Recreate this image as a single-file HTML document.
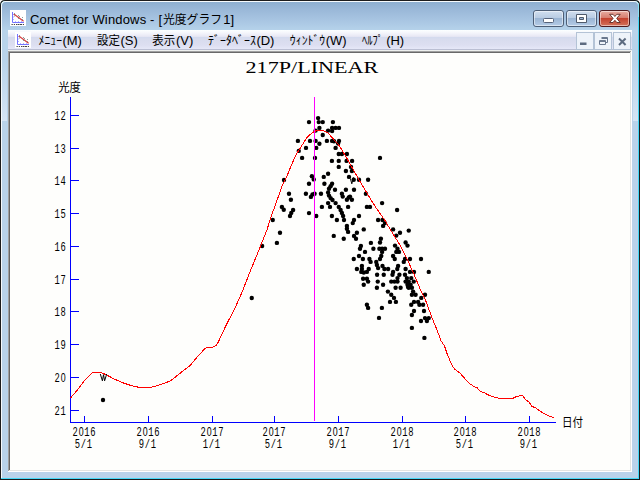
<!DOCTYPE html>
<html><head><meta charset="utf-8"><style>
html,body{margin:0;padding:0;background:#000;width:640px;height:480px;overflow:hidden}
svg{display:block}
.ss{font-family:"Liberation Sans",sans-serif}.se{font-family:"Liberation Serif",serif}.mo{font-family:"Liberation Mono",monospace}
.cj{font-family:"Liberation Sans","Noto Sans CJK JP",sans-serif}
</style></head><body>
<svg width="640" height="480" viewBox="0 0 640 480">
<defs>
<linearGradient id="tb" gradientUnits="userSpaceOnUse" x1="0" y1="2" x2="0" y2="30">
<stop offset="0" stop-color="#8eafd0"/><stop offset="0.3" stop-color="#9bb9d9"/><stop offset="0.65" stop-color="#a8c5e2"/><stop offset="1" stop-color="#b5d2ea"/>
</linearGradient>
<linearGradient id="mb" gradientUnits="userSpaceOnUse" x1="0" y1="30" x2="0" y2="49">
<stop offset="0" stop-color="#fcffff"/><stop offset="0.16" stop-color="#f4f5fb"/><stop offset="0.34" stop-color="#e7e7f4"/><stop offset="0.37" stop-color="#d3daee"/><stop offset="0.5" stop-color="#d8dcee"/><stop offset="0.8" stop-color="#dddff1"/><stop offset="1" stop-color="#e6e8f8"/>
</linearGradient>
<linearGradient id="gl" gradientUnits="userSpaceOnUse" x1="0" y1="60" x2="0" y2="121">
<stop offset="0" stop-color="#d6e5f5" stop-opacity="0"/><stop offset="0.5" stop-color="#d6e5f5" stop-opacity="0.45"/><stop offset="1" stop-color="#d6e5f5" stop-opacity="0.95"/>
</linearGradient>
<linearGradient id="btn" x1="0" y1="0" x2="0" y2="1">
<stop offset="0" stop-color="#d3e0f0"/><stop offset="0.45" stop-color="#b9cce3"/><stop offset="0.5" stop-color="#9bb5d4"/><stop offset="1" stop-color="#b6cde8"/>
</linearGradient>
<linearGradient id="cls" x1="0" y1="0" x2="0" y2="1">
<stop offset="0" stop-color="#e9b0a5"/><stop offset="0.45" stop-color="#d77e70"/><stop offset="0.5" stop-color="#c4422f"/><stop offset="1" stop-color="#d4755e"/>
</linearGradient>
<g id="ico">
<rect x="0" y="0" width="16" height="16" fill="#fff"/>
<path d="M2.5,2 V12.5 H14" stroke="#7474ff" stroke-width="1" fill="none"/>
<path d="M3,4 h1 v1 h-1z M3,6.500 h1 v1 h-1z M3,9 h1 v1 h-1z M5,11 h1 v1 h-1z M8,11 h1 v1 h-1z M11,11 h1 v1 h-1z" fill="#b4b4ff"/>
<path d="M3.800,4 L13.600,11.300" stroke="#d23c3c" stroke-width="1.100" fill="none"/>
<path d="M4,3 h1 v1 h-1z M4,5.500 h1 v1 h-1z M8,5 h1 v1 h-1z M9,6 h1 v1 h-1z M8,8 h1 v1 h-1z M12,7 h1 v1 h-1z M12,9 h1 v1 h-1z" fill="#8a9a9a"/>
<path d="M1.500,14 h1.300 v1 h-1.300z M3.800,14 h1.200 v1 h-1.200z M6,14 h1 v1 h-1z M7.500,14 h2 v1 h-2z M10,14 h2 v1 h-2z M12.800,14 h1.200 v1 h-1.200z" fill="#444"/>
</g>
</defs>
<rect x="0" y="0" width="640" height="480" fill="#f4f4f4"/>
<path d="M0,480 V5 Q0,0 5,0 H635 Q640,0 640,5 V480 Z" fill="#1c1c1c"/>
<path d="M1,479 V5.500 Q1,1 5.500,1 H634.500 Q639,1 639,5.500 V479 Z" fill="#44d8f6"/>
<path d="M1,478 V5.500 Q1,1 5.500,1 H634.500 Q638.600,1 638,5 V478 Z" fill="#f6fafc"/>
<path d="M2,478 V6 Q2,2 6,2 H634 Q638,2 638,6 V478 Z" fill="#b9d3ea"/>
<rect x="638" y="4" width="1" height="475" fill="#44d8f6"/>
<rect x="638" y="3" width="1" height="14" fill="#a8e8f8" opacity="0.7"/>
<path d="M2,30 V6 Q2,2 6,2 H634 Q638,2 638,6 V30 Z" fill="url(#tb)"/>
<rect x="2" y="60" width="5" height="61" fill="url(#gl)"/>
<rect x="633" y="60" width="5" height="61" fill="url(#gl)"/>
<rect x="8" y="30" width="624" height="19" fill="url(#mb)"/>
<rect x="8" y="49" width="624" height="1" fill="#bbbfd3"/>
<rect x="8" y="50" width="624" height="1" fill="#eef0ee"/>
<rect x="8" y="51" width="624" height="421" fill="#ffffff"/>
<rect x="8" y="51" width="623" height="1" fill="#a0a0a0"/>
<rect x="8" y="51" width="1" height="420" fill="#a0a0a0"/>
<rect x="9" y="52" width="621" height="1" fill="#696969"/>
<rect x="9" y="52" width="1" height="418" fill="#696969"/>
<rect x="9" y="470" width="622" height="1" fill="#e3e5e1"/>
<rect x="630" y="52" width="1" height="419" fill="#e3e5e1"/>
<rect x="10" y="53" width="620" height="417" fill="#fefefc"/>
<use href="#ico" x="10" y="10"/>
<use href="#ico" x="15" y="32"/>
<text x="30" y="23.5" class="ss" font-size="13" fill="#000" textLength="132" lengthAdjust="spacing">Comet for Windows - [</text>
<text x="163" y="23.5" class="cj" font-size="12" fill="#000" textLength="59" lengthAdjust="spacingAndGlyphs">光度グラフ</text>
<text x="223.3" y="23.5" class="ss" font-size="13" fill="#000">1]</text>
<rect x="533.5" y="10.5" width="30" height="16" rx="2.5" fill="url(#btn)" stroke="#4d5e76"/>
<rect x="534.5" y="11.5" width="28" height="14" rx="1.8" fill="none" stroke="#fff" stroke-opacity="0.5"/>
<rect x="566.5" y="10.5" width="30" height="16" rx="2.5" fill="url(#btn)" stroke="#4d5e76"/>
<rect x="567.5" y="11.5" width="28" height="14" rx="1.8" fill="none" stroke="#fff" stroke-opacity="0.5"/>
<rect x="599.5" y="10.5" width="30" height="16" rx="2.5" fill="url(#cls)" stroke="#4e1a1e"/>
<rect x="600.5" y="11.5" width="28" height="14" rx="1.8" fill="none" stroke="#fff" stroke-opacity="0.5"/>
<rect x="543.5" y="18.5" width="10" height="4" rx="1" fill="#fff" stroke="#56627a"/>
<path d="M576.5,14.5 h10 v8 h-10z M579.5,17.5 h4 v2 h-4z" fill="#fff" fill-rule="evenodd" stroke="#4f5a6b"/>
<path d="M609.6,14.300 l3.400,0 1.900,2.200 1.900,-2.200 3.400,0 -3.500,4.100 3.500,4.100 -3.400,0 -1.900,-2.200 -1.900,2.200 -3.400,0 3.500,-4.100z" fill="#fff" stroke="#5d2a24" stroke-width="0.9"/>
<rect x="576.5" y="32.5" width="17" height="17" fill="#eef3fa" stroke="#b4c3d6"/>
<rect x="594.5" y="32.5" width="17" height="17" fill="#eef3fa" stroke="#b4c3d6"/>
<rect x="613.5" y="32.5" width="17" height="17" fill="#eef3fa" stroke="#b4c3d6"/>
<rect x="580" y="42.500" width="6.5" height="2.5" fill="#5d6b80"/>
<path d="M601.5,37.5 h6 v5 h-2 M601.5,38.5 h6 M599.5,40.500 h6 v4 h-6z M599.5,41.5 h6" fill="none" stroke="#6a788e"/>
<path d="M619,38.500 l6.600,6.500 M625.600,38.500 l-6.600,6.500" stroke="#5d6b80" stroke-width="2" fill="none"/>
<text x="38.6" y="44.5" class="cj" font-size="12" fill="#000" textLength="23.4" lengthAdjust="spacingAndGlyphs">ﾒﾆｭｰ</text>
<text x="62.44" y="44.5" class="ss" font-size="13" fill="#000">(M)</text>
<text x="97" y="44.5" class="cj" font-size="12" fill="#000" textLength="23" lengthAdjust="spacingAndGlyphs">設定</text>
<text x="120.5" y="44.5" class="ss" font-size="13" fill="#000">(S)</text>
<text x="152.3" y="44.5" class="cj" font-size="12" fill="#000" textLength="23" lengthAdjust="spacingAndGlyphs">表示</text>
<text x="176" y="44.5" class="ss" font-size="13" fill="#000">(V)</text>
<text x="208" y="44.5" class="cj" font-size="12" fill="#000" textLength="48" lengthAdjust="spacingAndGlyphs">ﾃﾞｰﾀﾍﾞｰｽ</text>
<text x="256.38" y="44.5" class="ss" font-size="13" fill="#000">(D)</text>
<text x="289.8" y="44.5" class="cj" font-size="12" fill="#000" textLength="35.5" lengthAdjust="spacingAndGlyphs">ｳｨﾝﾄﾞｳ</text>
<text x="325.66" y="44.5" class="ss" font-size="13" fill="#000">(W)</text>
<text x="361.9" y="44.5" class="cj" font-size="12" fill="#000" textLength="21" lengthAdjust="spacingAndGlyphs">ﾍﾙﾌﾟ</text>
<text x="386.14" y="44.5" class="ss" font-size="13" fill="#000">(H)</text>
<g shape-rendering="crispEdges" stroke="#0000ff" stroke-width="1" fill="none">
<path d="M70.5,97 V422.5 H556"/>
<path d="M70,115.5 H79"/>
<path d="M70,148.5 H79"/>
<path d="M70,180.5 H79"/>
<path d="M70,213.5 H79"/>
<path d="M70,246.5 H79"/>
<path d="M70,279.5 H79"/>
<path d="M70,311.5 H79"/>
<path d="M70,344.5 H79"/>
<path d="M70,377.5 H79"/>
<path d="M70,410.5 H79"/>
<path d="M84.5,416 V422"/>
<path d="M148.5,416 V422"/>
<path d="M212.5,416 V422"/>
<path d="M274.5,416 V422"/>
<path d="M338.5,416 V422"/>
<path d="M402.5,416 V422"/>
<path d="M465.5,416 V422"/>
<path d="M529.5,416 V422"/>
</g>
<g class="mo" font-size="13" fill="#000">
<text transform="translate(54.4,119.5) scale(0.68,1)" letter-spacing="1.02">12</text>
<text transform="translate(54.4,152.5) scale(0.68,1)" letter-spacing="1.02">13</text>
<text transform="translate(54.4,184.5) scale(0.68,1)" letter-spacing="1.02">14</text>
<text transform="translate(54.4,217.5) scale(0.68,1)" letter-spacing="1.02">15</text>
<text transform="translate(54.4,250.5) scale(0.68,1)" letter-spacing="1.02">16</text>
<text transform="translate(54.4,283.5) scale(0.68,1)" letter-spacing="1.02">17</text>
<text transform="translate(54.4,315.5) scale(0.68,1)" letter-spacing="1.02">18</text>
<text transform="translate(54.4,348.5) scale(0.68,1)" letter-spacing="1.02">19</text>
<text transform="translate(54.4,381.5) scale(0.68,1)" letter-spacing="1.02">2<tspan class="ss" dx="0.4">0</tspan></text>
<text transform="translate(54.4,414.5) scale(0.68,1)" letter-spacing="1.02">21</text>
<text transform="translate(72.4,436) scale(0.68,1)" letter-spacing="1.02">2<tspan class="ss" dx="0.4">0</tspan>16</text>
<text transform="translate(74.8,448) scale(0.68,1)" letter-spacing="1.02">5/1</text>
<text transform="translate(136.4,436) scale(0.68,1)" letter-spacing="1.02">2<tspan class="ss" dx="0.4">0</tspan>16</text>
<text transform="translate(138.8,448) scale(0.68,1)" letter-spacing="1.02">9/1</text>
<text transform="translate(200.4,436) scale(0.68,1)" letter-spacing="1.02">2<tspan class="ss" dx="0.4">0</tspan>17</text>
<text transform="translate(202.8,448) scale(0.68,1)" letter-spacing="1.02">1/1</text>
<text transform="translate(262.4,436) scale(0.68,1)" letter-spacing="1.02">2<tspan class="ss" dx="0.4">0</tspan>17</text>
<text transform="translate(264.8,448) scale(0.68,1)" letter-spacing="1.02">5/1</text>
<text transform="translate(326.4,436) scale(0.68,1)" letter-spacing="1.02">2<tspan class="ss" dx="0.4">0</tspan>17</text>
<text transform="translate(328.8,448) scale(0.68,1)" letter-spacing="1.02">9/1</text>
<text transform="translate(390.4,436) scale(0.68,1)" letter-spacing="1.02">2<tspan class="ss" dx="0.4">0</tspan>18</text>
<text transform="translate(392.8,448) scale(0.68,1)" letter-spacing="1.02">1/1</text>
<text transform="translate(453.4,436) scale(0.68,1)" letter-spacing="1.02">2<tspan class="ss" dx="0.4">0</tspan>18</text>
<text transform="translate(455.8,448) scale(0.68,1)" letter-spacing="1.02">5/1</text>
<text transform="translate(517.4,436) scale(0.68,1)" letter-spacing="1.02">2<tspan class="ss" dx="0.4">0</tspan>18</text>
<text transform="translate(519.8,448) scale(0.68,1)" letter-spacing="1.02">9/1</text>
</g>
<text x="58.2" y="91.5" class="cj" font-size="12" fill="#000" textLength="22.7" lengthAdjust="spacingAndGlyphs">光度</text>
<text x="562" y="426.5" class="cj" font-size="12" fill="#000" textLength="21" lengthAdjust="spacingAndGlyphs">日付</text>
<text x="245.5" y="72.9" class="se" font-size="16.7" textLength="132.8" lengthAdjust="spacingAndGlyphs" fill="#000">217P/LINEAR</text>
<g fill="#000">
<circle cx="309" cy="122.1" r="2.2"/>
<circle cx="318.1" cy="118.1" r="2.2"/>
<circle cx="318.75" cy="122.1" r="2.2"/>
<circle cx="319.4" cy="127.9" r="2.2"/>
<circle cx="315.6" cy="130.6" r="2.2"/>
<circle cx="297.9" cy="140.9" r="2.2"/>
<circle cx="310" cy="140.9" r="2.2"/>
<circle cx="315.6" cy="140.9" r="2.2"/>
<circle cx="319.4" cy="143.75" r="2.2"/>
<circle cx="306" cy="147.9" r="2.2"/>
<circle cx="316.25" cy="147.9" r="2.2"/>
<circle cx="298.75" cy="150.9" r="2.2"/>
<circle cx="302.1" cy="157.9" r="2.2"/>
<circle cx="315" cy="157.9" r="2.2"/>
<circle cx="322.75" cy="122.1" r="2.2"/>
<circle cx="332.9" cy="122.1" r="2.2"/>
<circle cx="332.1" cy="127.9" r="2.2"/>
<circle cx="335.6" cy="127.9" r="2.2"/>
<circle cx="339" cy="127.9" r="2.2"/>
<circle cx="328.1" cy="130.6" r="2.2"/>
<circle cx="332.1" cy="131" r="2.2"/>
<circle cx="322.75" cy="135" r="2.2"/>
<circle cx="326.9" cy="140.9" r="2.2"/>
<circle cx="332.1" cy="140.9" r="2.2"/>
<circle cx="334" cy="141.2" r="2.2"/>
<circle cx="339" cy="140.9" r="2.2"/>
<circle cx="338.1" cy="143.5" r="2.2"/>
<circle cx="335.6" cy="147.9" r="2.2"/>
<circle cx="338.75" cy="154" r="2.2"/>
<circle cx="341.9" cy="154" r="2.2"/>
<circle cx="346.9" cy="154" r="2.2"/>
<circle cx="380" cy="157.9" r="2.2"/>
<circle cx="331.9" cy="160.9" r="2.2"/>
<circle cx="338.75" cy="160.9" r="2.2"/>
<circle cx="346.6" cy="160.9" r="2.2"/>
<circle cx="352.1" cy="160.9" r="2.2"/>
<circle cx="338.75" cy="166.9" r="2.2"/>
<circle cx="351" cy="166.9" r="2.2"/>
<circle cx="284" cy="180" r="2.2"/>
<circle cx="311.9" cy="176.25" r="2.2"/>
<circle cx="313.75" cy="179.4" r="2.2"/>
<circle cx="309" cy="183.75" r="2.2"/>
<circle cx="289" cy="193.75" r="2.2"/>
<circle cx="305.9" cy="193.75" r="2.2"/>
<circle cx="314.6" cy="193.75" r="2.2"/>
<circle cx="312.5" cy="194.4" r="2.2"/>
<circle cx="310.9" cy="196.9" r="2.2"/>
<circle cx="290.9" cy="199.75" r="2.2"/>
<circle cx="281.9" cy="206.9" r="2.2"/>
<circle cx="283.75" cy="209.75" r="2.2"/>
<circle cx="293.1" cy="210" r="2.2"/>
<circle cx="291.25" cy="212.9" r="2.2"/>
<circle cx="290" cy="216" r="2.2"/>
<circle cx="309" cy="213.1" r="2.2"/>
<circle cx="316.25" cy="216" r="2.2"/>
<circle cx="272.75" cy="220" r="2.2"/>
<circle cx="345.9" cy="171" r="2.2"/>
<circle cx="351.9" cy="171" r="2.2"/>
<circle cx="328.1" cy="173.75" r="2.2"/>
<circle cx="323.75" cy="176.9" r="2.2"/>
<circle cx="349" cy="176.9" r="2.2"/>
<circle cx="353.75" cy="179.75" r="2.2"/>
<circle cx="359" cy="179.75" r="2.2"/>
<circle cx="368.1" cy="179.75" r="2.2"/>
<circle cx="324.4" cy="183.75" r="2.2"/>
<circle cx="332.1" cy="183.75" r="2.2"/>
<circle cx="330.6" cy="186.25" r="2.2"/>
<circle cx="329" cy="188.75" r="2.2"/>
<circle cx="335" cy="189.75" r="2.2"/>
<circle cx="345.9" cy="189.75" r="2.2"/>
<circle cx="354" cy="189.75" r="2.2"/>
<circle cx="321" cy="193.75" r="2.2"/>
<circle cx="328.1" cy="192.5" r="2.2"/>
<circle cx="329" cy="195.6" r="2.2"/>
<circle cx="330.6" cy="198.1" r="2.2"/>
<circle cx="332.5" cy="200" r="2.2"/>
<circle cx="341.9" cy="193.75" r="2.2"/>
<circle cx="342.75" cy="196.6" r="2.2"/>
<circle cx="365.9" cy="193.75" r="2.2"/>
<circle cx="350" cy="196.6" r="2.2"/>
<circle cx="346.9" cy="199.75" r="2.2"/>
<circle cx="351.9" cy="199.75" r="2.2"/>
<circle cx="348.75" cy="197.5" r="2.2"/>
<circle cx="328.1" cy="203.1" r="2.2"/>
<circle cx="335.6" cy="203.1" r="2.2"/>
<circle cx="382.1" cy="203.1" r="2.2"/>
<circle cx="321.9" cy="206.9" r="2.2"/>
<circle cx="330" cy="206.9" r="2.2"/>
<circle cx="338.75" cy="206.9" r="2.2"/>
<circle cx="348.1" cy="206.9" r="2.2"/>
<circle cx="366.9" cy="206.9" r="2.2"/>
<circle cx="370" cy="206.9" r="2.2"/>
<circle cx="340.6" cy="210" r="2.2"/>
<circle cx="341.9" cy="212.9" r="2.2"/>
<circle cx="397.1" cy="210" r="2.2"/>
<circle cx="331.9" cy="216" r="2.2"/>
<circle cx="343.1" cy="216" r="2.2"/>
<circle cx="359" cy="216" r="2.2"/>
<circle cx="336.9" cy="220" r="2.2"/>
<circle cx="344" cy="220" r="2.2"/>
<circle cx="354" cy="220" r="2.2"/>
<circle cx="352.75" cy="223.1" r="2.2"/>
<circle cx="378.1" cy="220" r="2.2"/>
<circle cx="382.5" cy="220" r="2.2"/>
<circle cx="385" cy="223.1" r="2.2"/>
<circle cx="383.1" cy="225.9" r="2.2"/>
<circle cx="346.9" cy="225.9" r="2.2"/>
<circle cx="346.9" cy="228.75" r="2.2"/>
<circle cx="363.75" cy="229.4" r="2.2"/>
<circle cx="393.1" cy="229.4" r="2.2"/>
<circle cx="348.1" cy="231.9" r="2.2"/>
<circle cx="356.9" cy="232.75" r="2.2"/>
<circle cx="333.75" cy="235.9" r="2.2"/>
<circle cx="354" cy="235.9" r="2.2"/>
<circle cx="343.75" cy="238.75" r="2.2"/>
<circle cx="356" cy="238.75" r="2.2"/>
<circle cx="380.9" cy="238.75" r="2.2"/>
<circle cx="370.9" cy="242.9" r="2.2"/>
<circle cx="380" cy="242.5" r="2.2"/>
<circle cx="360.9" cy="245.9" r="2.2"/>
<circle cx="360" cy="248.75" r="2.2"/>
<circle cx="373.4" cy="248.75" r="2.2"/>
<circle cx="379.4" cy="248.75" r="2.2"/>
<circle cx="382.1" cy="248.75" r="2.2"/>
<circle cx="385" cy="248.75" r="2.2"/>
<circle cx="365" cy="251.9" r="2.2"/>
<circle cx="382.1" cy="251.9" r="2.2"/>
<circle cx="359" cy="256" r="2.2"/>
<circle cx="381.25" cy="256" r="2.2"/>
<circle cx="353.75" cy="259" r="2.2"/>
<circle cx="362.9" cy="259" r="2.2"/>
<circle cx="369.4" cy="259" r="2.2"/>
<circle cx="380" cy="259" r="2.2"/>
<circle cx="370.6" cy="261.9" r="2.2"/>
<circle cx="376.25" cy="261.9" r="2.2"/>
<circle cx="361.9" cy="265.9" r="2.2"/>
<circle cx="376.9" cy="265" r="2.2"/>
<circle cx="382.5" cy="265.9" r="2.2"/>
<circle cx="356.9" cy="269" r="2.2"/>
<circle cx="361.9" cy="269" r="2.2"/>
<circle cx="368.75" cy="269" r="2.2"/>
<circle cx="378.1" cy="268.1" r="2.2"/>
<circle cx="384.4" cy="269" r="2.2"/>
<circle cx="388.1" cy="269" r="2.2"/>
<circle cx="361.25" cy="271.9" r="2.2"/>
<circle cx="366.9" cy="271.9" r="2.2"/>
<circle cx="363.75" cy="272.5" r="2.2"/>
<circle cx="377.1" cy="274.75" r="2.2"/>
<circle cx="383.75" cy="274.75" r="2.2"/>
<circle cx="363.1" cy="278.75" r="2.2"/>
<circle cx="366.9" cy="278.75" r="2.2"/>
<circle cx="368.1" cy="281.6" r="2.2"/>
<circle cx="377.75" cy="281.6" r="2.2"/>
<circle cx="363.75" cy="284.75" r="2.2"/>
<circle cx="383.1" cy="284.75" r="2.2"/>
<circle cx="376.9" cy="287.75" r="2.2"/>
<circle cx="400" cy="232.75" r="2.2"/>
<circle cx="408.75" cy="230.6" r="2.2"/>
<circle cx="396.25" cy="235.6" r="2.2"/>
<circle cx="405.6" cy="242.5" r="2.2"/>
<circle cx="407.5" cy="245.6" r="2.2"/>
<circle cx="395" cy="245.6" r="2.2"/>
<circle cx="397.5" cy="248.75" r="2.2"/>
<circle cx="396.25" cy="251.9" r="2.2"/>
<circle cx="399" cy="251.9" r="2.2"/>
<circle cx="393.1" cy="256" r="2.2"/>
<circle cx="394.75" cy="259" r="2.2"/>
<circle cx="405" cy="259" r="2.2"/>
<circle cx="410" cy="259" r="2.2"/>
<circle cx="421" cy="259" r="2.2"/>
<circle cx="403.75" cy="261.9" r="2.2"/>
<circle cx="398.1" cy="265.9" r="2.2"/>
<circle cx="397.25" cy="269" r="2.2"/>
<circle cx="405.6" cy="269" r="2.2"/>
<circle cx="410" cy="271.9" r="2.2"/>
<circle cx="414" cy="271.9" r="2.2"/>
<circle cx="428.75" cy="271.9" r="2.2"/>
<circle cx="393.1" cy="271.9" r="2.2"/>
<circle cx="392.5" cy="274.75" r="2.2"/>
<circle cx="399.4" cy="274.75" r="2.2"/>
<circle cx="405" cy="274.75" r="2.2"/>
<circle cx="397.5" cy="278.1" r="2.2"/>
<circle cx="406.9" cy="278.1" r="2.2"/>
<circle cx="411.25" cy="278.1" r="2.2"/>
<circle cx="391.25" cy="281.6" r="2.2"/>
<circle cx="394.4" cy="281.6" r="2.2"/>
<circle cx="397.5" cy="281.6" r="2.2"/>
<circle cx="405.6" cy="281.6" r="2.2"/>
<circle cx="408.75" cy="281.6" r="2.2"/>
<circle cx="413.75" cy="281.6" r="2.2"/>
<circle cx="407.5" cy="284.75" r="2.2"/>
<circle cx="410.6" cy="284.75" r="2.2"/>
<circle cx="395.6" cy="287.75" r="2.2"/>
<circle cx="400.6" cy="287.75" r="2.2"/>
<circle cx="408.75" cy="287.75" r="2.2"/>
<circle cx="411.9" cy="287.75" r="2.2"/>
<circle cx="280" cy="232.75" r="2.2"/>
<circle cx="276.9" cy="242.9" r="2.2"/>
<circle cx="262.1" cy="246" r="2.2"/>
<circle cx="251.75" cy="298" r="2.2"/>
<circle cx="387.9" cy="291.6" r="2.2"/>
<circle cx="391.25" cy="294.75" r="2.2"/>
<circle cx="394" cy="297.9" r="2.2"/>
<circle cx="390" cy="301.9" r="2.2"/>
<circle cx="395.9" cy="301.9" r="2.2"/>
<circle cx="366.9" cy="304.75" r="2.2"/>
<circle cx="368.1" cy="307.9" r="2.2"/>
<circle cx="381.9" cy="307.9" r="2.2"/>
<circle cx="379" cy="317.9" r="2.2"/>
<circle cx="408.1" cy="286.9" r="2.2"/>
<circle cx="413.1" cy="291.6" r="2.2"/>
<circle cx="411.9" cy="294.75" r="2.2"/>
<circle cx="415.6" cy="294.75" r="2.2"/>
<circle cx="425" cy="294.75" r="2.2"/>
<circle cx="421.25" cy="297.9" r="2.2"/>
<circle cx="414" cy="301.9" r="2.2"/>
<circle cx="418.1" cy="301.9" r="2.2"/>
<circle cx="411.25" cy="304.75" r="2.2"/>
<circle cx="419.4" cy="304.75" r="2.2"/>
<circle cx="423.1" cy="304.75" r="2.2"/>
<circle cx="414" cy="311" r="2.2"/>
<circle cx="424" cy="311" r="2.2"/>
<circle cx="411.9" cy="315" r="2.2"/>
<circle cx="425" cy="318.1" r="2.2"/>
<circle cx="428.75" cy="318.1" r="2.2"/>
<circle cx="421" cy="321" r="2.2"/>
<circle cx="426.9" cy="321" r="2.2"/>
<circle cx="411.9" cy="327.9" r="2.2"/>
<circle cx="424.4" cy="337.9" r="2.2"/>
<circle cx="103" cy="400" r="2.2"/>
</g>
<polyline fill="none" stroke="#ff0000" stroke-width="1" shape-rendering="crispEdges" points="70.5,398 77.5,390 85,380 92.5,372.4 100.6,372.4 106.25,374.75 115,379.4 123.75,383.1 132.5,386 140,387.5 151.25,387.25 156.25,386 162.5,383.75 168.75,381.6 173.1,379 177.5,375.25 183.1,370.9 190,365.6 196.25,358.1 205,348.5 207.5,347.4 212.5,347.4 216.25,345.25 218.1,342.5 219.75,338.75 226.25,325 235,308 242.5,291.25 243.1,289.4 251.25,268.75 260,247.5 266.9,230 271.25,216.25 276.25,202.5 282.5,185 287.5,174.75 292.5,162.5 296.25,154.4 300.6,147.5 306.9,137.5 312.5,132.5 316,130.8 318.75,130.25 322.5,130.6 325,131.5 328.1,133.1 332.5,138.1 338.75,145 345,155 351.25,166.25 355.6,173.75 365,190 375,206.25 385,220.6 390.6,230 400,245 407.5,260 413.75,273.75 420.6,290 425,298.75 431.9,317.5 437.5,331.25 441.25,341.25 444.4,345.6 447.5,355 452.5,366.25 455,369.4 460,373.1 465,378.75 470,384 475,387 476.9,387.5 480.6,391.5 483.75,392.5 487.5,394.6 491.25,396.25 495.6,397.5 500,398.5 512.5,398.5 516.25,396.6 521.9,395.4 523.1,396.25 525.6,399.75 528.75,401.9 531.9,406.25 535.6,407.9 540,411.25 545,414 550,416.5 554,417.75"/>
<path d="M314.5,97 V421" stroke="#ff00ff" stroke-width="1" shape-rendering="crispEdges"/>
<path d="M350.4,178.6 L351.8,183.8 L353.4,177.2" fill="none" stroke="#000" stroke-width="1"/>
<path d="M100.3,374 L102.4,380.8 L103.5,374.6 L104.6,380.8 L106.7,374" fill="none" stroke="#000" stroke-width="1"/>
</svg>
</body></html>
